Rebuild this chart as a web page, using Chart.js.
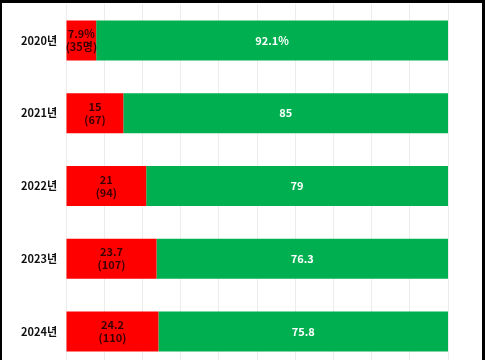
<!DOCTYPE html>
<html>
<head>
<meta charset="utf-8">
<script src="https://cdn.jsdelivr.net/npm/chart.js@4/dist/chart.umd.min.js"></script>
<style>
  html, body { margin: 0; padding: 0; background: #fff; }
  #wrap { position: relative; width: 485px; height: 360px; overflow: hidden; background: #fff; }
  #cv { position: absolute; left: 0; top: 0; }
  #frame { position: absolute; left: 0; top: 0; width: 485px; height: 372px; box-sizing: border-box;
           border-top: 3px solid #000; border-left: 2px solid #000; border-right: 3px solid #000; pointer-events: none; }
</style>
</head>
<body>
<div id="wrap">
  <canvas id="cv" width="485" height="368" style="width:485px;height:368px"></canvas>
  <div id="frame"></div>
</div>
<script>
const years = ['2020년', '2021년', '2022년', '2023년', '2024년'];
const redShare = [7.9, 15, 21, 23.7, 24.2];
const greenShare = [92.1, 85, 79, 76.3, 75.8];
const redTopLabels = ['7.9%', '15', '21', '23.7', '24.2'];
const redBottomLabels = ['(35명)', '(67)', '(94)', '(107)', '(110)'];
const greenLabels = ['92.1%', '85', '79', '76.3', '75.8'];

const labelPlugin = {
  id: 'barLabels',
  afterDatasetsDraw(chart) {
    const ctx = chart.ctx;
    ctx.save();
    ctx.textAlign = 'center';
    ctx.textBaseline = 'middle';
    ctx.font = 'bold 11px "Noto Sans CJK KR", sans-serif';
    const red = chart.getDatasetMeta(0).data;
    const green = chart.getDatasetMeta(1).data;
    red.forEach((bar, i) => {
      const cx = (bar.x + bar.base) / 2;
      ctx.fillStyle = '#3a0000';
      ctx.fillText(redTopLabels[i], cx, bar.y - 6.5);
      ctx.fillText(redBottomLabels[i], cx, bar.y + 6.5);
    });
    green.forEach((bar, i) => {
      const cx = (bar.x + bar.base) / 2;
      ctx.fillStyle = '#ffffff';
      ctx.fillText(greenLabels[i], cx, bar.y);
    });
    ctx.restore();
  }
};

new Chart(document.getElementById('cv'), {
  type: 'bar',
  data: {
    labels: years,
    datasets: [
      { data: redShare, backgroundColor: '#ff0000', borderWidth: 0 },
      { data: greenShare, backgroundColor: '#00b050', borderWidth: 0 }
    ]
  },
  options: {
    indexAxis: 'y',
    responsive: false,
    animation: false,
    devicePixelRatio: 1,
    layout: { padding: { top: 4, right: 37, bottom: 0, left: 0 } },
    datasets: { bar: { categoryPercentage: 1, barPercentage: 0.55 } },
    plugins: { legend: { display: false }, tooltip: { enabled: false } },
    scales: {
      x: {
        stacked: true, min: 0, max: 100,
        afterFit(scale) { scale.height = 0; scale.paddingLeft = 0; scale.paddingRight = 0; },
        ticks: { display: false, stepSize: 10 },
        grid: { color: '#ececec', lineWidth: 1, drawTicks: false },
        border: { display: false }
      },
      y: {
        stacked: true,
        afterFit(scale) { scale.width = 66; scale.paddingTop = 0; scale.paddingBottom = 0; },
        ticks: { color: '#111', padding: 9, font: { family: '"Noto Sans CJK KR", sans-serif', size: 11, weight: 'bold' } },
        grid: { display: false, drawTicks: false },
        border: { display: false }
      }
    }
  },
  plugins: [labelPlugin]
});
</script>
</body>
</html>
